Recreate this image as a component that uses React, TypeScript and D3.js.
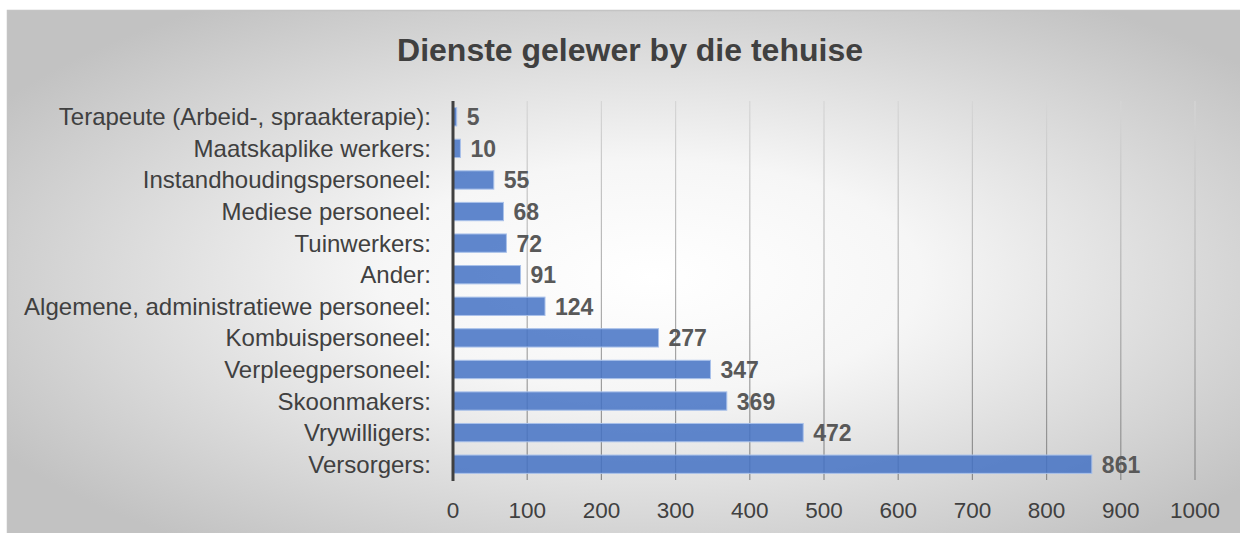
import React from "react";
import * as d3 from "d3";

const title = "Dienste gelewer by die tehuise";
const categories = [
  "Terapeute (Arbeid-, spraakterapie):",
  "Maatskaplike werkers:",
  "Instandhoudingspersoneel:",
  "Mediese personeel:",
  "Tuinwerkers:",
  "Ander:",
  "Algemene, administratiewe personeel:",
  "Kombuispersoneel:",
  "Verpleegpersoneel:",
  "Skoonmakers:",
  "Vrywilligers:",
  "Versorgers:",
];
const values = [5, 10, 55, 68, 72, 91, 124, 277, 347, 369, 472, 861];
const xTicks = [0, 100, 200, 300, 400, 500, 600, 700, 800, 900, 1000];

const W = 1240;
const H = 533;
const plot = { left: 453, right: 1195, top: 101, bottom: 480 };
const font = "'Liberation Sans', Arial, sans-serif";

export default function App() {
  const x = d3.scaleLinear().domain([0, 1000]).range([plot.left, plot.right]);
  const y = d3
    .scaleBand<string>()
    .domain(categories)
    .range([plot.top, plot.bottom])
    .paddingInner(0.42)
    .paddingOuter(0.21);

  return (
    <svg
      width={W}
      height={H}
      style={{ position: "absolute", left: 0, top: 0 }}
      fontFamily={font}
    >
      <defs>
        <radialGradient id="bg" cx="52%" cy="50%" r="62%">
          <stop offset="0%" stopColor="#ffffff" />
          <stop offset="35%" stopColor="#f6f6f6" />
          <stop offset="100%" stopColor="#c2c2c2" />
        </radialGradient>
        <linearGradient
          id="grid"
          gradientUnits="userSpaceOnUse"
          x1="0"
          y1={plot.top}
          x2="0"
          y2={plot.bottom}
        >
          <stop offset="0%" stopColor="#d6d6d6" />
          <stop offset="100%" stopColor="#8a8a8a" />
        </linearGradient>
      </defs>
      <rect x={0} y={0} width={W} height={H} fill="#ffffff" />
      <rect
        x={7.5}
        y={10.5}
        width={W}
        height={H}
        fill="url(#bg)"
        stroke="#c4c4c4"
        strokeWidth={1.5}
      />
      <text
        x={630}
        y={61}
        textAnchor="middle"
        fontSize={32}
        fontWeight="bold"
        fill="#404040"
      >
        {title}
      </text>

      {xTicks.slice(1).map((t) => (
        <line
          key={"g" + t}
          x1={x(t)}
          x2={x(t)}
          y1={plot.top}
          y2={plot.bottom}
          stroke="url(#grid)"
          strokeWidth={1.2}
        />
      ))}

      {categories.map((c, i) => (
        <g key={c}>
          <rect
            x={x(0)}
            y={y(c)!}
            width={x(values[i]) - x(0)}
            height={y.bandwidth()}
            fill="#4472c4"
            fillOpacity={0.85}
            stroke="#a9c1ea"
            strokeWidth={1}
          />
          <text
            x={x(values[i]) + 10}
            y={y(c)! + y.bandwidth() / 2 + 8.5}
            fontSize={23}
            fontWeight="bold"
            fill="#595959"
          >
            {values[i]}
          </text>
          <text
            x={431}
            y={y(c)! + y.bandwidth() / 2 + 8.5}
            fontSize={24}
            textAnchor="end"
            fill="#404040"
          >
            {c}
          </text>
        </g>
      ))}

      <line
        x1={x(0)}
        x2={x(0)}
        y1={plot.top}
        y2={plot.bottom + 1}
        stroke="#404040"
        strokeWidth={3}
      />

      {xTicks.map((t) => (
        <text
          key={"t" + t}
          x={x(t)}
          y={518}
          textAnchor="middle"
          fontSize={22.5}
          fill="#404040"
        >
          {t}
        </text>
      ))}
    </svg>
  );
}
